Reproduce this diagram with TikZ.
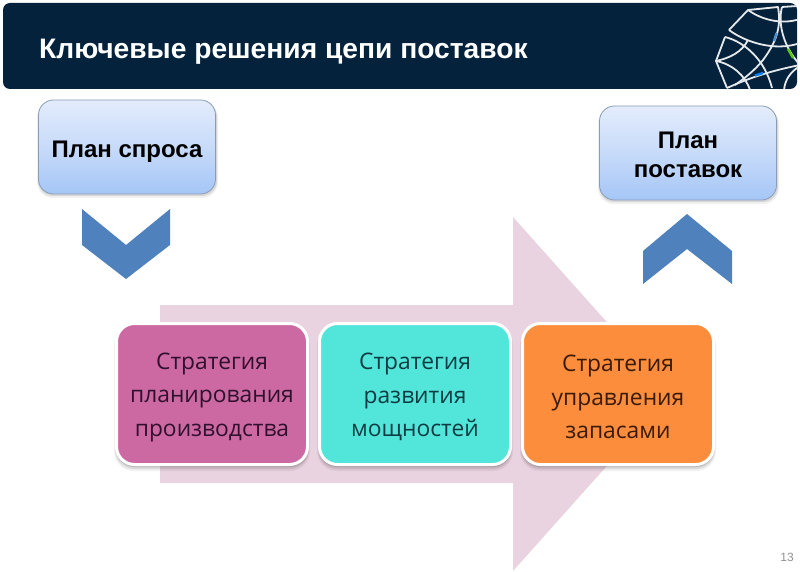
\documentclass[tikz,border=0pt]{standalone}
\usepackage{fontspec}
\setmainfont{Liberation Sans}
\newfontfamily\boxfont{Open Sans}
\usetikzlibrary{calc}
\definecolor{hdr}{HTML}{04223C}
\definecolor{pinkarrow}{HTML}{EAD3E0}
\definecolor{chev}{HTML}{4F81BD}
\definecolor{planTop}{HTML}{E3ECFC}
\definecolor{planBot}{HTML}{A5C6F6}
\definecolor{planEdge}{HTML}{8A9DB8}
\definecolor{magentabox}{HTML}{CC69A3}
\definecolor{cyanbox}{HTML}{52E5DA}
\definecolor{orangebox}{HTML}{FB8D3C}
\newcommand{\firstline}{\rule{0pt}{22.5pt}}
\tikzset{
  planbox/.style={draw=planEdge,line width=0.8pt,rounded corners=15pt,top color=planTop,bottom color=planBot,middle color=planTop!55!planBot,
    minimum width=177pt,minimum height=94pt,align=center,inner sep=0pt,font=\fontsize{24pt}{29pt}\selectfont\bfseries,text=black},
  stratbox/.style={draw=white,line width=3pt,rounded corners=18pt,minimum width=191pt,minimum height=141pt,align=center,inner sep=0pt,
    font=\boxfont\fontsize{22.8pt}{33.5pt}\selectfont},
  chevron/.style={fill=chev,draw=none},
  logoline/.style={draw=white!90!hdr,line width=1.8pt,line join=round}
}
\begin{document}
\begin{tikzpicture}[x=1pt,y=-1pt]
\useasboundingbox (0,0) rectangle (800,572);
\fill[white] (0,0) rectangle (800,572);
% header
\fill[hdr,rounded corners=7pt] (3,3) rectangle (797,89);
\begin{scope}
\clip[rounded corners=7pt] (3,3) rectangle (797,89);
\draw[logoline] (729,30) -- (748,10) -- (778,7) .. controls (781,25) and (778,40) .. (763,60) .. controls (755,70) and (745,78) .. (735,85);
\draw[logoline] (748,10) .. controls (765,22) and (785,24) .. (800,19);
\draw[logoline] (729,30) .. controls (745,42) and (775,52) .. (800,43);
\draw[logoline] (782,7) .. controls (778,22) and (782,45) .. (800,65);
\draw[logoline] (782,7) -- (797,6);
\draw[logoline] (725,37) -- (716,61) -- (727,88);
\draw[logoline] (725,37) .. controls (745,42) and (765,60) .. (772,88);
\draw[logoline] (716,61) .. controls (730,58) and (742,52) .. (748,40);
\draw[logoline] (716,61) .. controls (732,64) and (745,75) .. (750,90);
\draw[logoline] (727,88) .. controls (745,80) and (765,72) .. (800,65);
\draw[logoline] (800,66) .. controls (790,72) and (785,80) .. (784,90);
\draw[line width=2.4pt,color=cyan!55!blue!75] (776.5,33) -- (774,41);
\draw[line width=2.4pt,color=green!60!yellow!80!black] (788,49) -- (793,58);
\draw[line width=2.4pt,color=blue!50!cyan] (755,75.5) -- (763,73);
\end{scope}
\node[anchor=west,inner sep=0pt,white,font=\fontsize{28.2pt}{32pt}\selectfont\bfseries] (title) at (39,52) {Ключевые решения цепи поставок};
% big arrow
\fill[pinkarrow] (160,305) -- (513,305) -- (513,217) -- (671,394) -- (513,571) -- (513,483) -- (160,483) -- cycle;
% plan boxes
\fill[black,opacity=.06,rounded corners=16pt] (37,102) rectangle (218,198);
\fill[black,opacity=.10,rounded corners=15pt] (38,102) rectangle (217,196);
\node[planbox] (demand) at (127,147) {\rule{0pt}{26pt}План спроса};
\fill[black,opacity=.06,rounded corners=16pt] (598,108) rectangle (779,204);
\fill[black,opacity=.10,rounded corners=15pt] (599,108) rectangle (778,202);
\node[planbox] (supply) at (688,153) {\rule{0pt}{20pt}План\\поставок};
% chevrons
\fill[chevron] (82,209) -- (126,245) -- (170,209) -- (170,245) -- (126,279) -- (82,245) -- cycle;
\fill[chevron] (643,251) -- (687,214) -- (732,251) -- (732,284) -- (687,249) -- (643,284) -- cycle;
% strategy boxes
\foreach \x in {212,415,618}{
  \fill[black,opacity=.06,rounded corners=20pt] (\x-98,325) rectangle (\x+98,471);
  \fill[black,opacity=.09,rounded corners=19pt] (\x-97,325) rectangle (\x+97,469);
  \fill[black,opacity=.14,rounded corners=18pt] (\x-96,325) rectangle (\x+96,467);
}
\node[stratbox,fill=magentabox,text={rgb,255:red,48;green,16;blue,47}] (s1) at (212,394) {\firstline Стратегия\\планирования\\производства};
\node[stratbox,fill=cyanbox,text={rgb,255:red,15;green,60;blue,66}] (s2) at (415,394) {\firstline Стратегия\\развития\\мощностей};
\node[stratbox,fill=orangebox,text={rgb,255:red,58;green,26;blue,8}] (s3) at (618,394) {\firstline Стратегия\\управления\\запасами};
\node[text=gray!85,font=\fontsize{12pt}{14pt}\selectfont] (page) at (787,557) {13};
\end{tikzpicture}
\end{document}
